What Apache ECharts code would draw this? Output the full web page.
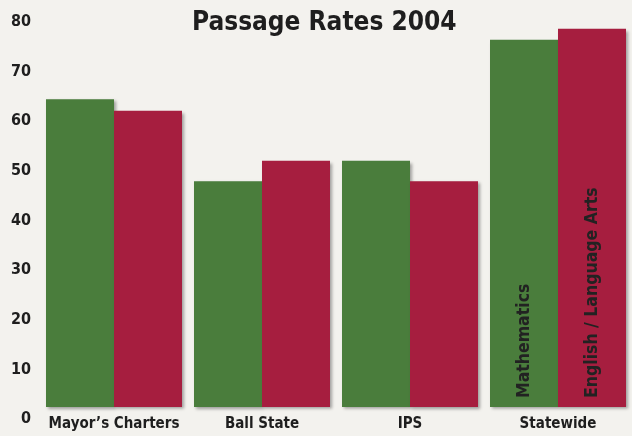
<!DOCTYPE html>
<html>
<head>
<meta charset="utf-8">
<script src="https://cdn.jsdelivr.net/npm/echarts@6/dist/echarts.min.js"></script>
<style>
  html, body { margin: 0; padding: 0; background: #f3f2ee; }
  #chart { width: 632px; height: 436px; }
</style>
</head>
<body>
<div id="chart"></div>
<script>
// Passage Rates 2004
var categories = ["Mayor\u2019s Charters", "Ball State", "IPS", "Statewide"];
var mathValues = [62, 45.5, 49.6, 74.0];
var englishValues = [59.7, 49.6, 45.5, 76.2];
var seriesNames = ["Mathematics", "English / Language Arts"];
var yTicks = [0, 10, 20, 30, 40, 50, 60, 70, 80];

var narrow = '"Liberation Sans Narrow", "DejaVu Sans Condensed", sans-serif';
var green = '#4a7d3c';
var red = '#a61e3f';

// only the last group carries the rotated series names
function buildData(values, name){
	return values.map(function(v, i){
		if( i !== values.length - 1 ){
			return { value: v };
		}
		return {
			value: v,
			label: {
				show: true,
				formatter: name,
				position: 'insideBottom',
				rotate: 90,
				align: 'left',
				verticalAlign: 'middle',
				distance: 9,
				color: '#222',
				fontFamily: narrow,
				fontWeight: 'bold',
				fontSize: 17.5
			}
		};
	});
}

var barShadow = {
	shadowColor: 'rgba(0,0,0,0.35)',
	shadowBlur: 3,
	shadowOffsetX: 2,
	shadowOffsetY: 2
};

var chart = echarts.init(document.getElementById('chart'));
chart.setOption({
	backgroundColor: '#f3f2ee',
	animation: false,
	title: {
		text: 'Passage Rates 2004',
		left: 187,
		top: 5,
		textStyle: {
			fontFamily: narrow,
			fontWeight: 'bold',
			fontSize: 26,
			color: '#1e1e1e'
		}
	},
	grid: {
		left: 40,
		width: 596,
		top: 10,
		bottom: 29
	},
	xAxis: {
		type: 'category',
		data: categories,
		axisLine: { show: false },
		axisTick: { show: false },
		axisLabel: {
			interval: 0,
			margin: 10,
			color: '#1e1e1e',
			fontFamily: narrow,
			fontWeight: 'bold',
			fontSize: 15
		}
	},
	yAxis: {
		type: 'value',
		min: yTicks[0],
		max: yTicks[yTicks.length - 1],
		interval: 10,
		splitLine: { show: false },
		axisLine: { show: false },
		axisTick: { show: false },
		axisLabel: {
			margin: 9,
			verticalAlign: 'top',
			lineHeight: 24,
			color: '#1e1e1e',
			fontFamily: narrow,
			fontWeight: 'bold',
			fontSize: 16
		}
	},
	series: [
		{
			name: seriesNames[0],
			type: 'bar',
			barWidth: 68,
			barGap: '0%',
			data: buildData(mathValues, seriesNames[0]),
			itemStyle: Object.assign({ color: green }, barShadow)
		},
		{
			name: seriesNames[1],
			type: 'bar',
			barWidth: 68,
			barGap: '0%',
			data: buildData(englishValues, seriesNames[1]),
			itemStyle: Object.assign({ color: red }, barShadow)
		}
	]
});
</script>
</body>
</html>
